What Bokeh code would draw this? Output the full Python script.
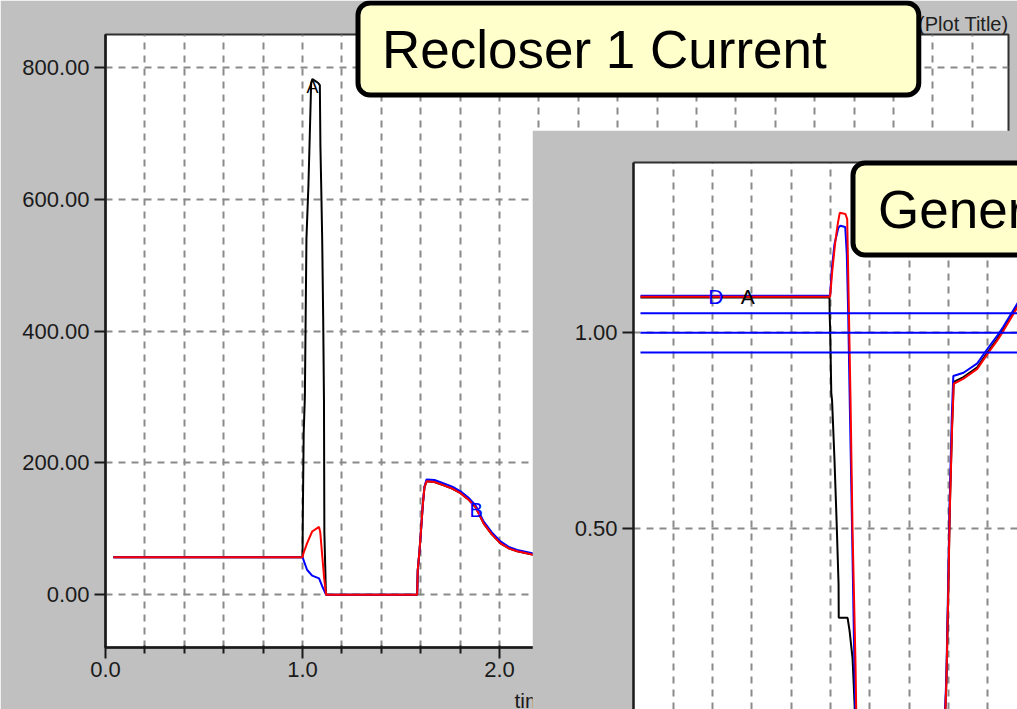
from bokeh.plotting import figure
from bokeh.models import (Range1d, FixedTicker, NumeralTickFormatter, Label,
                          LinearAxis, GridBox)
from bokeh.embed import file_html
from bokeh.resources import INLINE

# ---------------- Plot 1 : Recloser 1 Current (A) vs time (s) ----------------
t1_black = [0.04, 1.0, 1.002, 1.006, 1.012, 1.016, 1.02, 1.03, 1.037, 1.044, 1.05,
            1.06, 1.08, 1.088, 1.091, 1.095, 1.10, 1.105, 1.109, 1.111, 1.119,
            1.582, 1.585, 1.594, 1.604, 1.611, 1.619, 1.63, 1.67, 1.717, 1.76,
            1.802, 1.84, 1.878, 1.92, 1.96, 2.005, 2.05, 2.09, 2.166, 2.25]
i1_black = [57, 57, 130, 245, 300, 420, 540, 620, 697, 776, 782,
            780, 776, 773, 679, 620, 538, 420, 295, 94, 0,
            0, 37, 67, 108, 138, 163, 172, 171, 166, 161,
            154, 145, 133, 108, 92, 78, 70, 66, 61, 58]

t1_blue = [0.04, 1.0, 1.023, 1.049, 1.084, 1.10, 1.12,
           1.582, 1.585, 1.594, 1.604, 1.611, 1.619, 1.63, 1.67, 1.717, 1.76,
           1.802, 1.84, 1.878, 1.92, 1.96, 2.005, 2.05, 2.09, 2.166, 2.25]
i1_blue = [57, 57, 38, 29, 25, 13, 0,
           0, 37, 67, 108, 138, 164, 175, 174, 169, 164,
           157, 148, 136, 111, 95, 81, 72, 68, 63, 60]

t1_red = [0.04, 1.0, 1.005, 1.023, 1.049, 1.084, 1.09, 1.10, 1.11, 1.12,
          1.582, 1.585, 1.594, 1.604, 1.611, 1.619, 1.63, 1.67, 1.717, 1.76,
          1.802, 1.84, 1.878, 1.92, 1.96, 2.005, 2.05, 2.09, 2.166, 2.25]
i1_red = [57, 57, 63, 78, 96, 103, 95, 60, 25, 0,
          0, 37, 67, 108, 138, 163, 172, 171, 166, 161,
          154, 145, 133, 108, 92, 78, 70, 66, 61, 58]

x1_major = [0, 1, 2, 3, 4]
x1_minor = [0.2, 0.4, 0.6, 0.8, 1.2, 1.4, 1.6, 1.8, 2.2, 2.4, 2.6, 2.8,
            3.2, 3.4, 3.6, 3.8, 4.2, 4.4]
x1_grid = [0.2, 0.4, 0.6, 0.8, 1.0, 1.2, 1.4, 1.6, 1.8, 2.0, 2.2, 2.4, 2.6,
           2.8, 3.0, 3.2, 3.4, 3.6, 3.8, 4.0, 4.2, 4.4]
y1_ticks = [0, 200, 400, 600, 800]

# ---------------- Plot 2 : Generator (pu) vs time (s) ----------------
t2_black = [0.033, 0.995, 0.996, 0.998, 1.004, 1.008, 1.02, 1.031, 1.041, 1.042,
            1.087, 1.097, 1.112, 1.118, 1.127,
            1.58, 1.585, 1.59, 1.599, 1.607, 1.619, 1.624, 1.627, 1.677, 1.747,
            1.80, 1.848, 1.88, 1.951, 2.0]
v2_black = [1.09, 1.09, 1.043, 1.013, 0.847, 0.827, 0.68, 0.52, 0.36, 0.273,
            0.273, 0.24, 0.171, 0.105, 0.0,
            0.0, 0.045, 0.115, 0.332, 0.55, 0.767, 0.832, 0.875, 0.887, 0.912,
            0.951, 0.984, 1.009, 1.069, 1.094]

t2_blue = [0.033, 0.998, 1.006, 1.02, 1.04, 1.05, 1.075, 1.083, 1.09, 1.097,
           1.108, 1.12, 1.128,
           1.58, 1.585, 1.59, 1.598, 1.606, 1.617, 1.622, 1.625, 1.677, 1.747,
           1.80, 1.848, 1.88, 1.951, 2.0]
v2_blue = [1.0945, 1.0945, 1.16, 1.225, 1.268, 1.273, 1.27, 1.2, 1.05, 0.85,
           0.55, 0.2, 0.0,
           0.0, 0.06, 0.13, 0.34, 0.56, 0.78, 0.85, 0.89, 0.898, 0.922,
           0.96, 0.992, 1.016, 1.075, 1.1]

t2_red = [0.033, 0.998, 1.009, 1.025, 1.037, 1.047, 1.076, 1.085, 1.092, 1.102,
          1.112, 1.127, 1.132,
          1.58, 1.585, 1.59, 1.599, 1.607, 1.619, 1.624, 1.627, 1.677, 1.747,
          1.80, 1.848, 1.88, 1.951, 2.0]
v2_red = [1.092, 1.092, 1.158, 1.235, 1.278, 1.306, 1.303, 1.29, 1.1, 0.827,
          0.5, 0.163, 0.0,
          0.0, 0.04, 0.112, 0.329, 0.546, 0.763, 0.827, 0.87, 0.883, 0.908,
          0.947, 0.98, 1.005, 1.065, 1.09]

lim_v = [0.95, 1.00, 1.05]
lim_t0 = [0.033, 0.033, 0.033]
lim_t1 = [2.0, 2.0, 2.0]

x2_grid = [0.2, 0.4, 0.6, 0.8, 1.0, 1.2, 1.4, 1.6, 1.8]
y2_ticks = [0.5, 1.0]

FONT = "Liberation Sans"
WIN = "#c0c0c0"
GRID = "#8a8a8a"
BOX = "#ffffcc"

# pixel helpers for the window geometry (reference pixel -> data)
def p2x(px): return (px - 633.5) / 196.5
def p2y(py): return 1.0 + (332.3 - py) / 392.0
def p1x(px): return (px - 105.0) / 197.0
def p1y(py): return (594.3 - py) / 0.6595


def style_axis(ax):
    ax.axis_line_color = "#1a1a1a"
    ax.axis_line_width = 2.5
    ax.major_tick_line_color = "#1a1a1a"
    ax.major_tick_line_width = 2
    ax.minor_tick_line_color = "#1a1a1a"
    ax.minor_tick_line_width = 2
    ax.major_label_text_font = FONT
    ax.major_label_text_font_size = "22px"
    ax.major_label_text_color = "#1a1a1a"


def style_grid(p):
    for g in (p.xgrid[0], p.ygrid[0]):
        g.grid_line_color = GRID
        g.grid_line_width = 2
        g.grid_line_dash = "7 6"


def overlay():
    # transparent full-window layer (pixel coordinates) for window captions
    o = figure(width=1017, height=709, x_range=Range1d(0, 1017), y_range=Range1d(709, 0),
               x_axis_location=None, y_axis_location=None, output_backend="svg",
               toolbar_location=None, min_border=0)
    o.border_fill_color = None
    o.background_fill_color = None
    o.outline_line_color = None
    o.grid.visible = False
    return o


# ---------------- figure 1 ----------------
p1 = figure(width=1017, height=709, x_range=Range1d(0, p1x(1008)),
            y_range=Range1d(p1y(647), p1y(34)), output_backend="svg",
            toolbar_location=None, min_border_left=105, min_border_right=9,
            min_border_top=34, min_border_bottom=62)
p1.border_fill_color = WIN
p1.background_fill_color = "white"
p1.outline_line_color = "#303030"
p1.outline_line_width = 2

xa = p1.xaxis[0]
xa.ticker = FixedTicker(ticks=x1_major, minor_ticks=x1_minor)
xa.formatter = NumeralTickFormatter(format="0.0")
style_axis(xa)
xa.major_tick_out = 11
xa.major_tick_in = 2
xa.minor_tick_out = 6
xa.minor_tick_in = 2
xa.major_label_standoff = 3

ya = p1.yaxis[0]
ya.ticker = FixedTicker(ticks=y1_ticks)
ya.formatter = NumeralTickFormatter(format="0.00")
style_axis(ya)
ya.major_tick_out = 11
ya.major_tick_in = 0
ya.major_label_standoff = 5

p1.xgrid.ticker = FixedTicker(ticks=x1_grid)
p1.ygrid.ticker = FixedTicker(ticks=y1_ticks)
style_grid(p1)

p1.line(t1_black, i1_black, line_color="black", line_width=2)
p1.line(t1_blue, i1_blue, line_color="#0000ff", line_width=2)
p1.line(t1_red, i1_red, line_color="#ff0000", line_width=2)

p1.add_layout(Label(x=1.051, y=770, text="A", text_font=FONT, text_font_size="18px",
                    text_color="black", text_align="center", text_baseline="middle"))
p1.add_layout(Label(x=1.881, y=128, text="B", text_font=FONT, text_font_size="20px",
                    text_color="#0000ff", text_align="center", text_baseline="middle"))

# captions of window 1 (outside its frame)
pm = overlay()
pm.add_layout(Label(x=514, y=700, text="time", text_font=FONT,
                    text_font_size="21px", text_color="#1a1a1a",
                    text_align="left", text_baseline="middle"))
pm.add_layout(Label(x=1008, y=23, text="(Plot Title)", text_font=FONT,
                    text_font_size="20px", text_color="#202020",
                    text_align="right", text_baseline="middle"))
pm.add_layout(Label(x=357.5, y=2.5, text="Recloser 1 Current",
                    text_font=FONT, text_font_size="53px", text_color="black",
                    text_align="left", text_baseline="top",
                    background_fill_color=BOX, border_line_color="black",
                    border_line_width=5, border_radius=12,
                    padding=dict(left=24, right=92, top=17, bottom=16)))

# ---------------- figure 2 ----------------
p2 = figure(width=485, height=579, x_range=Range1d(p2x(633), p2x(1017)),
            y_range=Range1d(p2y(709), p2y(162)), x_axis_location=None,
            output_backend="svg", toolbar_location=None, min_border_left=101,
            min_border_right=0, min_border_top=32, min_border_bottom=0)
p2.border_fill_color = WIN
p2.background_fill_color = "white"
p2.outline_line_color = None

top_ax = LinearAxis(ticker=FixedTicker(ticks=[]), axis_line_color="#303030",
                    axis_line_width=2, major_tick_line_color=None,
                    minor_tick_line_color=None, major_label_text_color=None)
p2.add_layout(top_ax, "above")

ya2 = p2.yaxis[0]
ya2.ticker = FixedTicker(ticks=y2_ticks)
ya2.formatter = NumeralTickFormatter(format="0.00")
style_axis(ya2)
ya2.major_tick_out = 11
ya2.major_tick_in = 0
ya2.major_label_standoff = 5

p2.xgrid.ticker = FixedTicker(ticks=x2_grid)
p2.ygrid.ticker = FixedTicker(ticks=y2_ticks)
style_grid(p2)

p2.line(t2_black, v2_black, line_color="black", line_width=2)
p2.line(t2_blue, v2_blue, line_color="#0000ff", line_width=2)
p2.line(t2_red, v2_red, line_color="#ff0000", line_width=2)
p2.segment(x0=lim_t0, x1=lim_t1, y0=lim_v, y1=lim_v, line_color="#0000ff", line_width=2)

p2.add_layout(Label(x=0.417, y=1.093, text="D", text_font=FONT, text_font_size="21px",
                    text_color="#0000ff", text_align="center", text_baseline="middle"))
p2.add_layout(Label(x=0.579, y=1.093, text="A", text_font=FONT, text_font_size="21px",
                    text_color="black", text_align="center", text_baseline="middle"))

# caption of window 2
pt = overlay()
pt.add_layout(Label(x=852.5, y=162.5, text="Generator 1 Voltage",
                    text_font=FONT, text_font_size="53px", text_color="black",
                    text_align="left", text_baseline="top",
                    background_fill_color=BOX, border_line_color="black",
                    border_line_width=5, border_radius=12,
                    padding=dict(left=25, right=97, top=17, bottom=16)))

root = GridBox(children=[(p1, 0, 0, 6, 6), (pm, 1, 1, 4, 4),
                         (p2, 3, 3, 1, 1), (pt, 2, 2, 2, 2)],
               rows=["0px", "0px", "130px", "579px", "0px", "0px"],
               cols=["0px", "0px", "532px", "485px", "0px", "0px"])

open("out.html", "w").write(file_html(root, INLINE))
